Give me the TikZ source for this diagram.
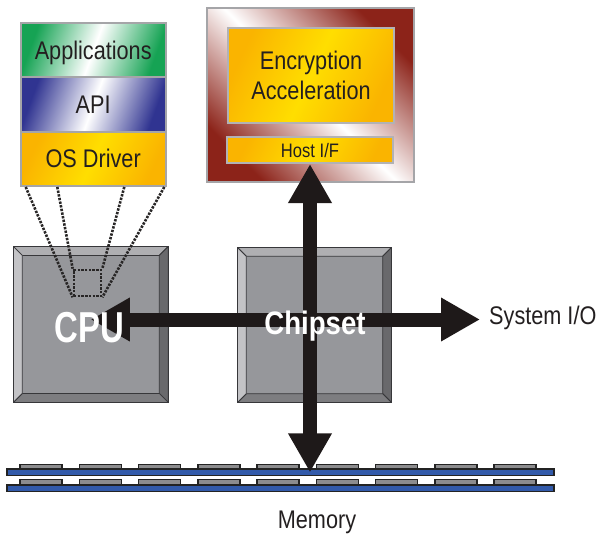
\documentclass[tikz,border=0pt]{standalone}
\usepackage{fontspec}
\setmainfont{Liberation Sans}[FakeStretch=0.85]
\newfontfamily\cpufont{Liberation Sans}[FakeStretch=0.76]
\usetikzlibrary{arrows.meta}

\begin{document}
\begin{tikzpicture}[x=1pt,y=-1pt,
    big/.style={text=txt,font=\fontsize{25.5}{30.7}\selectfont},
    lbl/.style={big,inner sep=0pt,text height=18.3pt,text depth=0pt},
    band/.style={lbl,draw=edge,line width=2pt,minimum width=145pt,minimum height=54.3pt},
    goldbox/.style={draw=edge!85,line width=2pt,inner sep=0pt,top color=gold,bottom color=gold,middle color=lemon,shading angle=65},
    chip/.style={draw=chipline,line width=0.8pt,fill=chipface,minimum width=155pt,minimum height=156pt,inner sep=0pt,
        path picture={
            \coordinate (bnw) at (path picture bounding box.north west);
            \coordinate (bne) at (path picture bounding box.north east);
            \coordinate (bse) at (path picture bounding box.south east);
            \coordinate (bsw) at (path picture bounding box.south west);
            \draw[chipline,line width=0.8pt,fill=bevtop] (bnw) -- (bne) -- ([shift={(-9,9)}]bne) -- ([shift={(9,9)}]bnw) -- cycle;
            \draw[chipline,line width=0.8pt,fill=bevright] (bne) -- (bse) -- ([shift={(-9,-9)}]bse) -- ([shift={(-9,9)}]bne) -- cycle;
            \draw[chipline,line width=0.8pt,fill=bevbot] (bse) -- (bsw) -- ([shift={(9,-9)}]bsw) -- ([shift={(-9,-9)}]bse) -- cycle;
            \draw[chipline,line width=0.8pt,fill=bevleft] (bsw) -- (bnw) -- ([shift={(9,9)}]bnw) -- ([shift={(9,-9)}]bsw) -- cycle;
        }},
    chiptxt/.style={inner sep=0pt,text depth=0pt,text=white},
    zoomline/.style={draw=dots,line width=2.6pt,dash pattern=on 2.4pt off 1.3pt},
    bus/.style={draw=busblack,line width=14pt,{Triangle[length=39pt,width=41pt]}-{Triangle[length=39pt,width=41pt]}},
    membar/.style={draw=memline,line width=1.5pt,fill=memblue,minimum width=547pt,minimum height=6.5pt,inner sep=0pt},
    memchip/.style={draw=memline,line width=1.5pt,fill=memgray}]
    \definecolor{txt}{RGB}{35,31,32}
    \definecolor{edge}{RGB}{165,165,168}
    \definecolor{appgreen}{RGB}{22,163,84}
    \definecolor{apiblue}{RGB}{48,52,145}
    \definecolor{gold}{RGB}{250,180,0}
    \definecolor{lemon}{RGB}{255,222,0}
    \definecolor{encred}{RGB}{140,35,25}
    \definecolor{chipface}{RGB}{150,151,155}
    \definecolor{chipline}{RGB}{55,55,58}
    \definecolor{bevtop}{RGB}{175,175,178}
    \definecolor{bevleft}{RGB}{195,195,198}
    \definecolor{bevright}{RGB}{105,105,108}
    \definecolor{bevbot}{RGB}{125,125,128}
    \definecolor{dots}{RGB}{40,38,38}
    \definecolor{busblack}{RGB}{30,25,25}
    \definecolor{memblue}{RGB}{50,90,170}
    \definecolor{memgray}{RGB}{140,140,142}
    \definecolor{memline}{RGB}{35,35,35}
    \useasboundingbox (0,0) rectangle (597,533);
    \node[chip] (cpu) at (90.8,324.4) {};
    \node[chip,minimum width=154.4pt,minimum height=155.4pt] (chipset) at (314.5,325) {};
    \node[zoomline,minimum width=27pt,minimum height=26pt,inner sep=0pt] (focus) at (87.5,283) {};
    \node[band,top color=appgreen,bottom color=appgreen,middle color=white,shading angle=70] (apps) at (93.2,50.3) {Applications};
    \node[band,top color=apiblue,bottom color=apiblue,middle color=white,shading angle=70] (api) at (93.2,104.5) {API};
    \node[band,top color=gold,bottom color=gold,middle color=lemon,shading angle=65] (osdrv) at (93.2,158.8) {OS Driver};
    \draw[zoomline] ([xshift=6pt]osdrv.south west) -- (focus.south west);
    \draw[zoomline] ([xshift=37.6pt]osdrv.south west) -- (focus.north west);
    \draw[zoomline] ([xshift=-42.4pt]osdrv.south east) -- (focus.north east);
    \draw[zoomline] ([xshift=-2.4pt]osdrv.south east) -- (focus.south east);
    \node[draw=edge,line width=2pt,top color=encred,bottom color=encred,middle color=white,shading angle=-45,minimum width=207pt,minimum height=174pt,inner sep=0pt] (card) at (310.5,95) {};
    \node[goldbox,big,align=center,minimum width=166pt,minimum height=95pt] (engine) at (311,75.5) {Encryption\\Acceleration};
    \node[goldbox,lbl,font=\fontsize{19.5}{23}\selectfont,text height=14pt,minimum width=166pt,minimum height=26pt] (host) at (310,150) {Host I/F};
    \foreach \i in {0,...,8} {
        \draw[memchip] (20+59.25*\i,464.3) rectangle ++(42,5.4);
        \draw[memchip] (20+59.25*\i,479.7) rectangle ++(42,5.6);
    }
    \node[membar] (dimma) at (280.5,472.4) {};
    \node[membar] (dimmb) at (280.5,488) {};
    \node[lbl] (memlbl) at (317,518.9) {Memory};
    \coordinate (ioend) at (480,319.5);
    \draw[bus] (cpu.center |- ioend) -- (ioend);
    \draw[bus] (host.south) -- (host.south |- dimma.center);
    \node[lbl,anchor=west] (sysio) at (489,315.5) {System I/O};
    \node[chiptxt,font=\cpufont\bfseries\fontsize{43.3}{48}\selectfont,text height=31pt] (cputxt) at (89.5,326.7) {CPU};
    \node[chiptxt,font=\bfseries\fontsize{32.5}{38}\selectfont,text height=23.3pt] (chipsettxt) at (315,323.3) {Chipset};
\end{tikzpicture}
\end{document}
